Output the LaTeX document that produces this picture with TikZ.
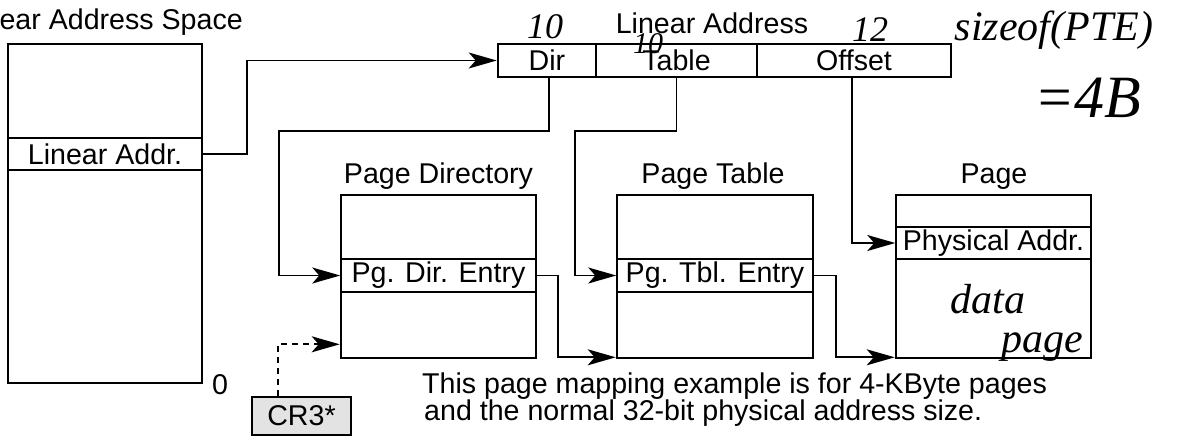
\documentclass[tikz,border=0pt]{standalone}
\usepackage{fontspec}
\setmainfont{Liberation Sans}
\newfontfamily\hand{Liberation Serif}
\usetikzlibrary{arrows.meta}
\begin{document}
\begin{tikzpicture}[x=1pt,y=-1pt,
  every node/.style={font=\fontsize{28.6}{30}\selectfont, inner sep=0pt},
  box/.style={draw, line width=2.6pt},
  band/.style={draw, line width=1.5pt},
  conn/.style={line width=1.7pt, -{Stealth[length=28pt,width=16pt,inset=7pt]}},
  hw/.style={font=\hand\itshape\fontsize{36}{36}\selectfont}]
\useasboundingbox (0,0) rectangle (1196,439);
% Linear address space
\node[box, minimum width=194pt, minimum height=339pt] (las) at (105,213.5) {};
\node[band, minimum width=194pt, minimum height=32pt] (laddr) at (105,154) {Linear Addr.};
\node[anchor=base east] (lastitle) at (243,29) {Linear Address Space};
\node (zero) at (220,385) {0};
% Linear address fields
\node[box, minimum width=98pt, minimum height=33pt] (dir) at (547,60.5) {Dir};
\node[box, minimum width=161pt, minimum height=33pt] (tbl) at (676.5,60.5) {Table};
\node[box, minimum width=194pt, minimum height=33pt] (off) at (854,60.5) {Offset};
\node[anchor=base] (latitle) at (712,33) {Linear Address};
% Page directory
\node[box, minimum width=195pt, minimum height=163pt] (pdir) at (438.5,276.5) {};
\node[band, minimum width=195pt, minimum height=33pt] (pde) at (438.5,275.5) {Pg. Dir. Entry};
\node[anchor=base] (pdtitle) at (438.5,183) {Page Directory};
% Page table
\node[box, minimum width=196pt, minimum height=163pt] (ptab) at (715,276.5) {};
\node[band, minimum width=196pt, minimum height=33pt] (pte) at (715,275.5) {Pg. Tbl. Entry};
\node[anchor=base] (pttitle) at (713,183) {Page Table};
% Page
\node[box, minimum width=195pt, minimum height=163pt] (page) at (993.5,276.5) {};
\node[band, minimum width=195pt, minimum height=32pt] (phys) at (993.5,243) {Physical Addr.};
\node[anchor=base] (pgtitle) at (994,183) {Page};
% CR3
\node[box, line width=2.2pt, fill=gray!22, minimum width=99pt, minimum height=38pt] (cr3) at (301.5,416) {CR3*};
% connectors
\draw[conn] (laddr.east) -- ++(44,0) |- (dir.west);
\coordinate (dturn) at (279,131);
\draw[conn] ([xshift=2pt]dir.south) |- (dturn) |- (pde.west);
\coordinate (tturn) at (575,131);
\draw[conn] (tbl.south) |- (tturn) |- (pte.west);
\draw[conn] ([xshift=-2pt]off.south) |- (phys.west);
\draw[conn] (pde.east) -- ++(21,0) |- ([yshift=2pt]ptab.south west);
\draw[conn] (pte.east) -- ++(22,0) |- ([yshift=2pt]page.south west);
\coordinate (cr3in) at ([yshift=15pt]pdir.south west);
\draw[conn, dash pattern=on 6pt off 5pt] ([xshift=-23.5pt]cr3.north) |- (cr3in);
% handwritten notes
\node[hw] (n10a) at (545,27) {10};
\node[hw, font=\hand\itshape\fontsize{30}{30}\selectfont] (n10b) at (648,44) {10};
\node[hw] (n12) at (870,30) {12};
\node[hw, font=\hand\itshape\fontsize{42}{42}\selectfont] (sz) at (1054,30) {sizeof(PTE)};
\node[hw, font=\hand\itshape\fontsize{60}{60}\selectfont] (eq) at (1088,98) {=4B};
\node[hw, font=\hand\itshape\fontsize{42}{42}\selectfont] (data) at (988,299) {data};
\node[hw, font=\hand\itshape\fontsize{42}{42}\selectfont] (pgw) at (1042,347) {page};
% note
\node[anchor=base west] (note1) at (422,393) {This page mapping example is for 4-KByte pages};
\node[anchor=base west] (note2) at (424,420) {and the normal 32-bit physical address size.};
\end{tikzpicture}
\end{document}
